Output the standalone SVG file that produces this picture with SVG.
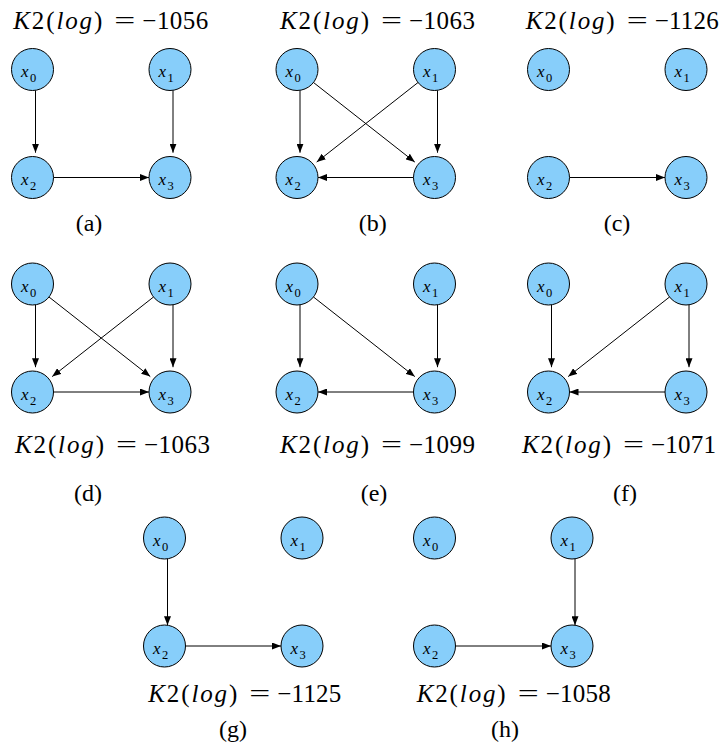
<svg xmlns="http://www.w3.org/2000/svg" width="728" height="749" viewBox="0 0 728 749" font-family="Liberation Serif, Times New Roman, Nimbus Roman, serif">
<style>
.n{fill:#87CEFA;stroke:#000;stroke-width:1}
.e{fill:none;stroke:#000;stroke-width:1;marker-end:url(#ah)}
.t{font-size:25px}
.i{font-style:italic}
.lx{font-size:17px;font-style:italic}
.ls{font-size:12.5px}
.cap{font-size:24px;text-anchor:middle}
</style>
<defs>
<marker id="ah" markerUnits="userSpaceOnUse" markerWidth="9" markerHeight="7" refX="9" refY="3.5" orient="auto">
<path d="M0,0 L9,3.5 L0,7 z" fill="#000"/>
</marker>
<g id="n0" font-family="Liberation Serif, serif"><circle class="n" r="21"/><text class="lx" x="-11.5" y="7.5">x</text><text class="ls" x="-2.5" y="12.5">0</text></g>
<g id="n1" font-family="Liberation Serif, serif"><circle class="n" r="21"/><text class="lx" x="-11.5" y="7.5">x</text><text class="ls" x="-2.5" y="12.5">1</text></g>
<g id="n2" font-family="Liberation Serif, serif"><circle class="n" r="21"/><text class="lx" x="-11.5" y="7.5">x</text><text class="ls" x="-2.5" y="12.5">2</text></g>
<g id="n3" font-family="Liberation Serif, serif"><circle class="n" r="21"/><text class="lx" x="-11.5" y="7.5">x</text><text class="ls" x="-2.5" y="12.5">3</text></g>
</defs>

<g id="connectors">
<g id="edges-a" transform="translate(32.5,69.5)">
<path class="e" d="M3,20.8 L3,83.2"/>
<path class="e" d="M140.5,20.8 L140.5,83.2"/>
<path class="e" d="M21,108 L116.5,108"/>
</g>
<g id="edges-b" transform="translate(297,69.5)">
<path class="e" d="M3,20.8 L3,83.2"/>
<path class="e" d="M140.5,20.8 L140.5,83.2"/>
<path class="e" d="M16.5,13 L117.8,92.6"/>
<path class="e" d="M121,13 L19.7,92.6"/>
<path class="e" d="M116.5,108 L21,108"/>
</g>
<g id="edges-c" transform="translate(548.5,69.5)">
<path class="e" d="M21,108 L116.5,108"/>
</g>
<g id="edges-d" transform="translate(32.5,284)">
<path class="e" d="M3,20.8 L3,83.2"/>
<path class="e" d="M140.5,20.8 L140.5,83.2"/>
<path class="e" d="M16.5,13 L117.8,92.6"/>
<path class="e" d="M121,13 L19.7,92.6"/>
<path class="e" d="M21,108 L116.5,108"/>
</g>
<g id="edges-e" transform="translate(297,284)">
<path class="e" d="M3,20.8 L3,83.2"/>
<path class="e" d="M140.5,20.8 L140.5,83.2"/>
<path class="e" d="M16.5,13 L117.8,92.6"/>
<path class="e" d="M116.5,108 L21,108"/>
</g>
<g id="edges-f" transform="translate(548.5,284)">
<path class="e" d="M3,20.8 L3,83.2"/>
<path class="e" d="M140.5,20.8 L140.5,83.2"/>
<path class="e" d="M121,13 L19.7,92.6"/>
<path class="e" d="M116.5,108 L21,108"/>
</g>
<g id="edges-g" transform="translate(164.5,538)">
<path class="e" d="M3,20.8 L3,87.2"/>
<path class="e" d="M21,108 L116.5,108"/>
</g>
<g id="edges-h" transform="translate(434.5,538)">
<path class="e" d="M140.5,20.8 L140.5,87.2"/>
<path class="e" d="M21,108 L116.5,108"/>
</g>
</g>

<g id="nodes">
<g id="a-x0"><use href="#n0" x="32.5" y="69.5"/></g>
<g id="a-x1"><use href="#n1" x="170" y="69.5"/></g>
<g id="a-x2"><use href="#n2" x="32.5" y="177.5"/></g>
<g id="a-x3"><use href="#n3" x="170" y="177.5"/></g>
<g id="b-x0"><use href="#n0" x="297" y="69.5"/></g>
<g id="b-x1"><use href="#n1" x="434.5" y="69.5"/></g>
<g id="b-x2"><use href="#n2" x="297" y="177.5"/></g>
<g id="b-x3"><use href="#n3" x="434.5" y="177.5"/></g>
<g id="c-x0"><use href="#n0" x="548.5" y="69.5"/></g>
<g id="c-x1"><use href="#n1" x="686" y="69.5"/></g>
<g id="c-x2"><use href="#n2" x="548.5" y="177.5"/></g>
<g id="c-x3"><use href="#n3" x="686" y="177.5"/></g>
<g id="d-x0"><use href="#n0" x="32.5" y="284"/></g>
<g id="d-x1"><use href="#n1" x="170" y="284"/></g>
<g id="d-x2"><use href="#n2" x="32.5" y="392"/></g>
<g id="d-x3"><use href="#n3" x="170" y="392"/></g>
<g id="e-x0"><use href="#n0" x="297" y="284"/></g>
<g id="e-x1"><use href="#n1" x="434.5" y="284"/></g>
<g id="e-x2"><use href="#n2" x="297" y="392"/></g>
<g id="e-x3"><use href="#n3" x="434.5" y="392"/></g>
<g id="f-x0"><use href="#n0" x="548.5" y="284"/></g>
<g id="f-x1"><use href="#n1" x="686" y="284"/></g>
<g id="f-x2"><use href="#n2" x="548.5" y="392"/></g>
<g id="f-x3"><use href="#n3" x="686" y="392"/></g>
<g id="g-x0"><use href="#n0" x="164.5" y="538"/></g>
<g id="g-x1"><use href="#n1" x="302" y="538"/></g>
<g id="g-x2"><use href="#n2" x="164.5" y="646"/></g>
<g id="g-x3"><use href="#n3" x="302" y="646"/></g>
<g id="h-x0"><use href="#n0" x="434.5" y="538"/></g>
<g id="h-x1"><use href="#n1" x="572" y="538"/></g>
<g id="h-x2"><use href="#n2" x="434.5" y="646"/></g>
<g id="h-x3"><use href="#n3" x="572" y="646"/></g>
</g>

<g id="titles" font-family="Liberation Serif, serif">
<g transform="translate(13.3,29)">
<text class="t" x="0" y="0" textLength="89" lengthAdjust="spacing"><tspan class="i">K</tspan>2(<tspan class="i">log</tspan>)</text>
<text class="t" x="101" y="0" textLength="21" lengthAdjust="spacingAndGlyphs">=</text>
<text class="t" x="129" y="0" textLength="66" lengthAdjust="spacing">−1056</text>
</g>
<g transform="translate(280,29)">
<text class="t" x="0" y="0" textLength="89" lengthAdjust="spacing"><tspan class="i">K</tspan>2(<tspan class="i">log</tspan>)</text>
<text class="t" x="101" y="0" textLength="21" lengthAdjust="spacingAndGlyphs">=</text>
<text class="t" x="129" y="0" textLength="66" lengthAdjust="spacing">−1063</text>
</g>
<g transform="translate(525.7,29)">
<text class="t" x="0" y="0" textLength="89" lengthAdjust="spacing"><tspan class="i">K</tspan>2(<tspan class="i">log</tspan>)</text>
<text class="t" x="101" y="0" textLength="21" lengthAdjust="spacingAndGlyphs">=</text>
<text class="t" x="129" y="0" textLength="64" lengthAdjust="spacing">−1126</text>
</g>
<g transform="translate(15,453)">
<text class="t" x="0" y="0" textLength="89" lengthAdjust="spacing"><tspan class="i">K</tspan>2(<tspan class="i">log</tspan>)</text>
<text class="t" x="101" y="0" textLength="21" lengthAdjust="spacingAndGlyphs">=</text>
<text class="t" x="129" y="0" textLength="66" lengthAdjust="spacing">−1063</text>
</g>
<g transform="translate(280,453)">
<text class="t" x="0" y="0" textLength="89" lengthAdjust="spacing"><tspan class="i">K</tspan>2(<tspan class="i">log</tspan>)</text>
<text class="t" x="101" y="0" textLength="21" lengthAdjust="spacingAndGlyphs">=</text>
<text class="t" x="129" y="0" textLength="66" lengthAdjust="spacing">−1099</text>
</g>
<g transform="translate(522,453)">
<text class="t" x="0" y="0" textLength="89" lengthAdjust="spacing"><tspan class="i">K</tspan>2(<tspan class="i">log</tspan>)</text>
<text class="t" x="101" y="0" textLength="21" lengthAdjust="spacingAndGlyphs">=</text>
<text class="t" x="129" y="0" textLength="65" lengthAdjust="spacing">−1071</text>
</g>
<g transform="translate(148.3,702)">
<text class="t" x="0" y="0" textLength="89" lengthAdjust="spacing"><tspan class="i">K</tspan>2(<tspan class="i">log</tspan>)</text>
<text class="t" x="101" y="0" textLength="21" lengthAdjust="spacingAndGlyphs">=</text>
<text class="t" x="129" y="0" textLength="64" lengthAdjust="spacing">−1125</text>
</g>
<g transform="translate(416.7,702)">
<text class="t" x="0" y="0" textLength="89" lengthAdjust="spacing"><tspan class="i">K</tspan>2(<tspan class="i">log</tspan>)</text>
<text class="t" x="101" y="0" textLength="21" lengthAdjust="spacingAndGlyphs">=</text>
<text class="t" x="129" y="0" textLength="65" lengthAdjust="spacing">−1058</text>
</g>
</g>

<g id="captions" font-family="Liberation Serif, serif">
<text class="cap" x="89" y="231">(a)</text>
<text class="cap" x="372.7" y="231">(b)</text>
<text class="cap" x="617" y="231">(c)</text>
<text class="cap" x="88" y="501">(d)</text>
<text class="cap" x="374" y="501">(e)</text>
<text class="cap" x="625" y="501">(f)</text>
<text class="cap" x="233" y="737">(g)</text>
<text class="cap" x="505" y="737">(h)</text>
</g>
</svg>
